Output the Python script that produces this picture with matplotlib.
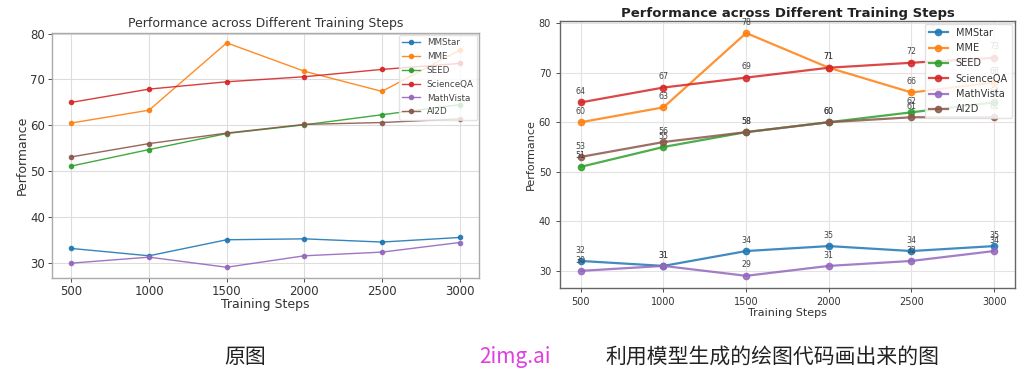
import matplotlib
matplotlib.use("Agg")
import matplotlib.pyplot as plt

steps = [500, 1000, 1500, 2000, 2500, 3000]
series_names = ["MMStar", "MME", "SEED", "ScienceQA", "MathVista", "AI2D"]

# left panel (original figure)
orig_mmstar = [33.1, 31.5, 35.0, 35.2, 34.5, 35.5]
orig_mme = [60.5, 63.3, 78.0, 71.8, 67.4, 76.4]
orig_seed = [51.1, 54.7, 58.2, 60.1, 62.3, 64.5]
orig_scienceqa = [65.0, 67.9, 69.5, 70.6, 72.2, 73.5]
orig_mathvista = [29.9, 31.2, 29.0, 31.5, 32.3, 34.4]
orig_ai2d = [53.1, 56.0, 58.3, 60.2, 60.6, 61.4]

# right panel (re-drawn figure)
new_mmstar = [32, 31, 34, 35, 34, 35]
new_mme = [60, 63, 78, 71, 66, 68]
new_seed = [51, 55, 58, 60, 62, 64]
new_scienceqa = [64, 67, 69, 71, 72, 73]
new_mathvista = [30, 31, 29, 31, 32, 34]
new_ai2d = [53, 56, 58, 60, 61, 61]

title = "Performance across Different Training Steps"
caption_left = "原图"
caption_mid = "2img.ai"
caption_right = "利用模型生成的绘图代码画出来的图"

colors = ["#1f77b4", "#ff7f0e", "#2ca02c", "#d62728", "#9467bd", "#8c564b"]

fig = plt.figure(figsize=(10.24, 3.73), dpi=100)
fig.patch.set_facecolor("white")

# ---------- left panel ----------
axL = fig.add_axes([0.0508, 0.2547, 0.4170, 0.6568])
orig = [orig_mmstar, orig_mme, orig_seed, orig_scienceqa, orig_mathvista, orig_ai2d]
for name, vals, c in zip(series_names, orig, colors):
    axL.plot(steps, vals, marker="o", markersize=3, linewidth=1.0, color=c,
             alpha=0.9, label=name)
axL.set_ylim(26.65, 80.15)
axL.set_xticks(steps)
axL.set_yticks([30, 40, 50, 60, 70, 80])
axL.tick_params(labelsize=8.5, colors="#333333", length=3, width=0.6, pad=2)
axL.grid(True, color="#dddddd", linewidth=0.8)
for s in axL.spines.values():
    s.set_color("#aaaaaa")
    s.set_linewidth(1.0)
axL.set_title(title, fontsize=9, color="#333333", pad=4)
axL.set_xlabel("Training Steps", fontsize=9, color="#333333", labelpad=0)
axL.set_ylabel("Performance", fontsize=9, color="#333333", labelpad=1)
legL = axL.legend(loc="upper right", fontsize=6.3, framealpha=0.8,
                  edgecolor="#dddddd", labelspacing=0.55, borderaxespad=0.2)
for t in legL.get_texts():
    t.set_color("#444444")

# ---------- right panel ----------
axR = fig.add_axes([0.547, 0.228, 0.444, 0.716])
new = [new_mmstar, new_mme, new_seed, new_scienceqa, new_mathvista, new_ai2d]
for name, vals, c in zip(series_names, new, colors):
    axR.plot(steps, vals, marker="o", markersize=4.5, linewidth=1.6, color=c,
             alpha=0.85, label=name)
    for x, y in zip(steps, vals):
        axR.annotate(f"{y}", (x, y), textcoords="offset points", xytext=(0, 6),
                     ha="center", fontsize=5.7, color="#444444")
axR.set_xticks(steps)
axR.set_yticks([30, 40, 50, 60, 70, 80])
axR.tick_params(labelsize=7, colors="#333333", length=3, width=0.6)
axR.grid(True, color="#e3e3e3", linewidth=0.8)
for s in axR.spines.values():
    s.set_color("#666666")
    s.set_linewidth(1.0)
axR.set_title(title, fontsize=9.5, fontweight="bold", color="#222222", pad=3)
axR.set_xlabel("Training Steps", fontsize=8, color="#333333", labelpad=1)
axR.set_ylabel("Performance", fontsize=8, color="#333333", labelpad=2)
legR = axR.legend(loc="upper right", fontsize=7, framealpha=0.85,
                  edgecolor="#dddddd", labelspacing=0.55, borderaxespad=0.3)
for t in legR.get_texts():
    t.set_color("#333333")

# ---------- captions ----------
cjk = ["Noto Sans CJK SC", "DejaVu Sans"]
fig.text(245 / 1024, 0.043, caption_left, ha="center", va="center",
         fontsize=15, family=cjk, color="#222222")
fig.text(515 / 1024, 0.043, caption_mid, ha="center", va="center",
         fontsize=15, family=cjk, color="#e23de2")
fig.text(772 / 1024, 0.043, caption_right, ha="center", va="center",
         fontsize=15, family=cjk, color="#222222")

fig.savefig("out.png", dpi=100, facecolor="white")
